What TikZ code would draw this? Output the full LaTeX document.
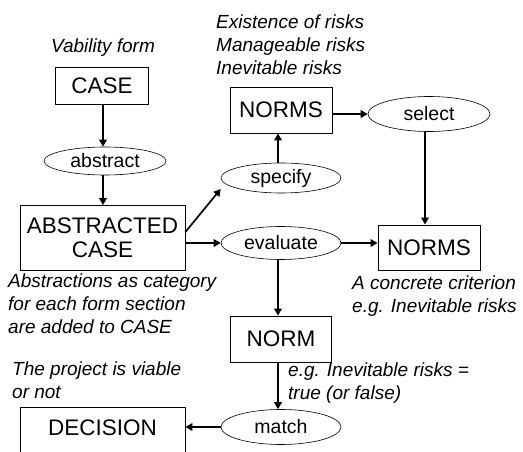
\documentclass[tikz,border=0pt]{standalone}
\usepackage{fontspec}
\setmainfont{Liberation Sans}
\usetikzlibrary{shapes.geometric,arrows.meta}
\begin{document}
\begin{tikzpicture}[x=1pt,y=-1pt,
 box/.style={draw,line width=0.8pt,font=\fontsize{22.5}{24}\selectfont,inner sep=0pt,align=center},
 oval/.style={draw,ellipse,line width=0.6pt,font=\fontsize{19.5}{20}\selectfont,inner sep=0pt,minimum width=120,minimum height=32},
 note/.style={font=\fontsize{19}{23}\selectfont\itshape,align=left,inner sep=0pt,anchor=west},
 arr/.style={line width=1.7pt,-{Triangle[length=7pt,width=7.5pt]}}]
\useasboundingbox (0,0) rectangle (523,452);
\clip (0,0) rectangle (523,452);
% boxes
\node[box,minimum width=93,minimum height=37] (case) at (102,86) {CASE};
\node[box,minimum width=165,minimum height=65] (acase) at (102.5,238) {ABSTRACTED\\CASE};
\node[box,minimum width=102,minimum height=46] (normst) at (281,110) {NORMS};
\node[box,minimum width=102,minimum height=45] (normsr) at (429,247.5) {NORMS};
\node[box,minimum width=101,minimum height=46] (norm) at (281,339) {NORM};
\node[box,minimum width=165,minimum height=70,anchor=north] (dec) at (102.5,407) {};
\node[font=\fontsize{22.5}{24}\selectfont,inner sep=0pt] (dectext) at (102.5,428) {DECISION};
% ellipses
\node[oval,minimum width=122,minimum height=28] (abs) at (105,161) {abstract};
\node[oval,minimum height=30] (spec) at (281,178) {specify};
\node[oval,minimum width=122,minimum height=35] (sel) at (429,114) {select};
\node[oval,minimum height=33] (eval) at (281,243) {evaluate};
\node[oval,minimum height=35] (match) at (281,427) {match};
% notes
\node[note] (n1) at (216,45) {Existence of risks\\Manageable risks\\Inevitable risks};
\node[note,anchor=center] (n2) at (103,48) {Vability form};
\node[note] (n3) at (8,304) {Abstractions as category\\for each form section\\are added to CASE};
\node[note] (n4) at (12,380) {The project is viable\\or not};
\node[note] (n5) at (352,296) {A concrete criterion\\e.g. Inevitable risks};
\node[note] (n6) at (288,383) {e.g. Inevitable risks =\\true (or false)};
% arrows
\draw[arr] (case.south -| abs.north) ++(-2,0) coordinate (c1) -- (c1 |- abs.north);
\draw[arr] (abs.south) ++(-2,0) coordinate (c2) -- (c2 |- acase.north);
\coordinate (d1) at (acase.east |- 0,232);
\coordinate (d2) at (spec.west |- 0,189);
\draw[arr] (d1) -- (d2);
\draw[arr] (acase.east |- eval.west) -- (eval.west);
\draw[arr] (eval.east) -- (normsr.west |- eval.east);
\draw[arr] ([xshift=-3]spec.north) -- ([xshift=-3]normst.south);
\draw[arr] (normst.east |- sel.west) -- (sel.west);
\draw[arr] ([xshift=-4]sel.south) -- ([xshift=-4]normsr.north);
\draw[arr] ([xshift=-3]eval.south) -- ([xshift=-3]norm.north);
\draw[arr] ([xshift=-3]norm.south) -- ([xshift=-3]match.north);
\draw[arr] (match.west) -- (dec.east |- match.west);
\end{tikzpicture}
\end{document}
